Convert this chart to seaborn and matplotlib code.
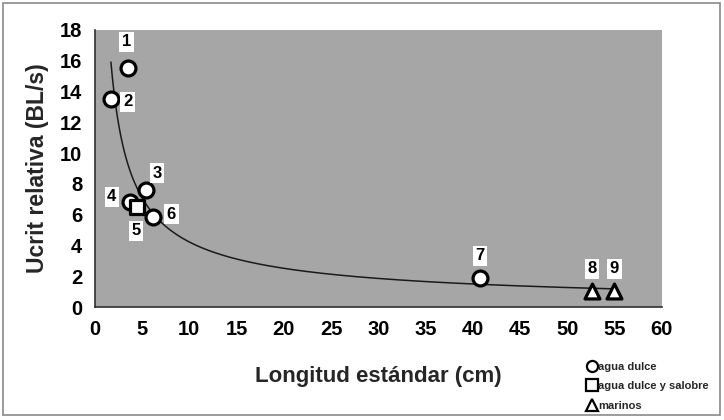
import numpy as np
import pandas as pd
import matplotlib
matplotlib.use("Agg")
import matplotlib.pyplot as plt
import seaborn as sns
from matplotlib.lines import Line2D
from matplotlib.patches import Rectangle

# Species measurements: standard length (cm) and relative Ucrit (BL/s)
ids = ["1", "2", "3", "4", "5", "6", "7", "8", "9"]
longitud = [3.5, 1.7, 5.4, 3.7, 4.5, 6.2, 40.8, 52.6, 55.0]
ucrit = [15.5, 13.5, 7.6, 6.8, 6.5, 5.85, 1.9, 1.05, 1.05]
habitat = ["agua dulce", "agua dulce", "agua dulce", "agua dulce",
           "agua dulce y salobre", "agua dulce", "agua dulce",
           "marinos", "marinos"]

# Label offsets (points) for each numbered species
label_dx = [-1, 12, 8, -13, -1, 13, 0, 0, 0]
label_dy = [19, -2, 12, 4, -17, 2, 16, 16, 16]

df = pd.DataFrame({"id": ids, "longitud": longitud, "ucrit": ucrit,
                   "habitat": habitat})

sns.set_theme(style="white")
plt.rcParams["font.family"] = ["Liberation Sans", "DejaVu Sans"]

fig = plt.figure(figsize=(7.24, 4.2), dpi=100)
fig.patch.set_facecolor("white")
ax = fig.add_axes([0.131, 0.269, 0.783, 0.660])
ax.set_facecolor("#a6a6a6")

# Power-law trend fitted to all species
b, loga = np.polyfit(np.log(df["longitud"]), np.log(df["ucrit"]), 1)
xs = np.linspace(min(longitud), max(longitud), 300)
ax.plot(xs, np.exp(loga) * xs ** b, color="#1a1a1a", lw=1.1, zorder=2)

markers = {"agua dulce": "o", "agua dulce y salobre": "s", "marinos": "^"}
sizes = {"agua dulce": 115, "agua dulce y salobre": 105, "marinos": 115}
for hab, sub in df.groupby("habitat", sort=False):
    sns.scatterplot(data=sub, x="longitud", y="ucrit", marker=markers[hab],
                    s=sizes[hab], color="white", edgecolor="black",
                    linewidth=2.3, ax=ax, zorder=3, legend=False)

for i, row in df.iterrows():
    ax.annotate(row["id"], (row["longitud"], row["ucrit"]),
                xytext=(label_dx[i], label_dy[i]), textcoords="offset points",
                ha="center", va="center", fontsize=12, fontweight="bold",
                color="black", zorder=4,
                bbox=dict(boxstyle="square,pad=0.15", fc="white", ec="none"))

ax.set_xlim(0, 60)
ax.set_ylim(0, 18)
ax.set_xticks(np.arange(0, 61, 5))
ax.set_yticks(np.arange(0, 19, 2))
ax.tick_params(axis="both", direction="out", length=4, width=1,
               colors="black", labelsize=14.5, pad=5)
for lab in ax.get_xticklabels() + ax.get_yticklabels():
    lab.set_fontweight("bold")
for s in ["top", "right"]:
    ax.spines[s].set_visible(False)
for s in ["left", "bottom"]:
    ax.spines[s].set_color("#303030")
    ax.spines[s].set_linewidth(1.2)

ax.set_xlabel("Longitud estándar (cm)", fontsize=16, fontweight="bold",
              labelpad=20)
ax.set_ylabel("Ucrit relativa (BL/s)", fontsize=16.5, fontweight="bold",
              labelpad=8)

handles = [Line2D([], [], marker=markers[h], linestyle="none",
                  markerfacecolor="white", markeredgecolor="black",
                  markeredgewidth=1.6, markersize=8)
           for h in ["agua dulce", "agua dulce y salobre", "marinos"]]
leg = fig.legend(handles, ["agua dulce", "agua dulce y salobre", "marinos"],
                 loc="upper left", bbox_to_anchor=(0.802, 0.152),
                 frameon=False, fontsize=8, handletextpad=0.05,
                 handlelength=1.0, labelspacing=0.85, borderpad=0)
for t in leg.get_texts():
    t.set_fontweight("bold")

# Outer chart border
fig.patches.append(Rectangle((0.004, 0.012), 0.99, 0.98,
                             transform=fig.transFigure, fill=False,
                             ec="#8a8a8a", lw=1.2))

fig.savefig("out.png", dpi=100, facecolor="white")
